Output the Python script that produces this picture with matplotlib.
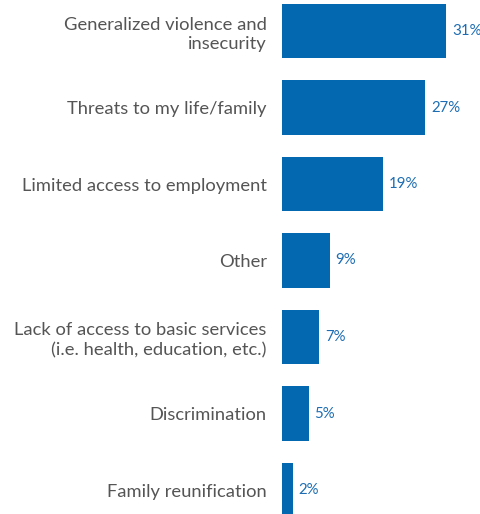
import matplotlib
matplotlib.use("Agg")
import matplotlib.pyplot as plt

categories = [
    "Generalized violence and\ninsecurity",
    "Threats to my life/family",
    "Limited access to employment",
    "Other",
    "Lack of access to basic services\n(i.e. health, education, etc.)",
    "Discrimination",
    "Family reunification",
]
values = [31, 27, 19, 9, 7, 5, 2]

bar_color = "#0468B1"
label_color = "#555555"
value_color = "#1C6DB3"

plt.rcParams["font.family"] = ["Lato", "DejaVu Sans"]

fig = plt.figure(figsize=(4.81, 5.14), dpi=100)
ax = fig.add_axes([282 / 481, 0, 199 / 481, 1])

positions = list(range(len(categories)))
ax.barh(positions, values, height=0.706, color=bar_color)

ax.set_xlim(0, 199 / 5.3)
ax.set_ylim(6 + 24 / 76.5, -31 / 76.5)

for pos, val in zip(positions, values):
    ax.annotate(f"{val}%", xy=(val, pos), xytext=(4.3, 0), textcoords="offset points",
                va="center", ha="left", fontsize=10.8, color=value_color)

ax.set_yticks(positions)
ax.set_yticklabels(categories, fontsize=13.2, color=label_color, ha="right",
                   multialignment="right", linespacing=1.3)
ax.tick_params(axis="y", length=0, pad=11)
ax.set_xticks([])
for spine in ax.spines.values():
    spine.set_visible(False)

fig.savefig("out.png", dpi=100)
